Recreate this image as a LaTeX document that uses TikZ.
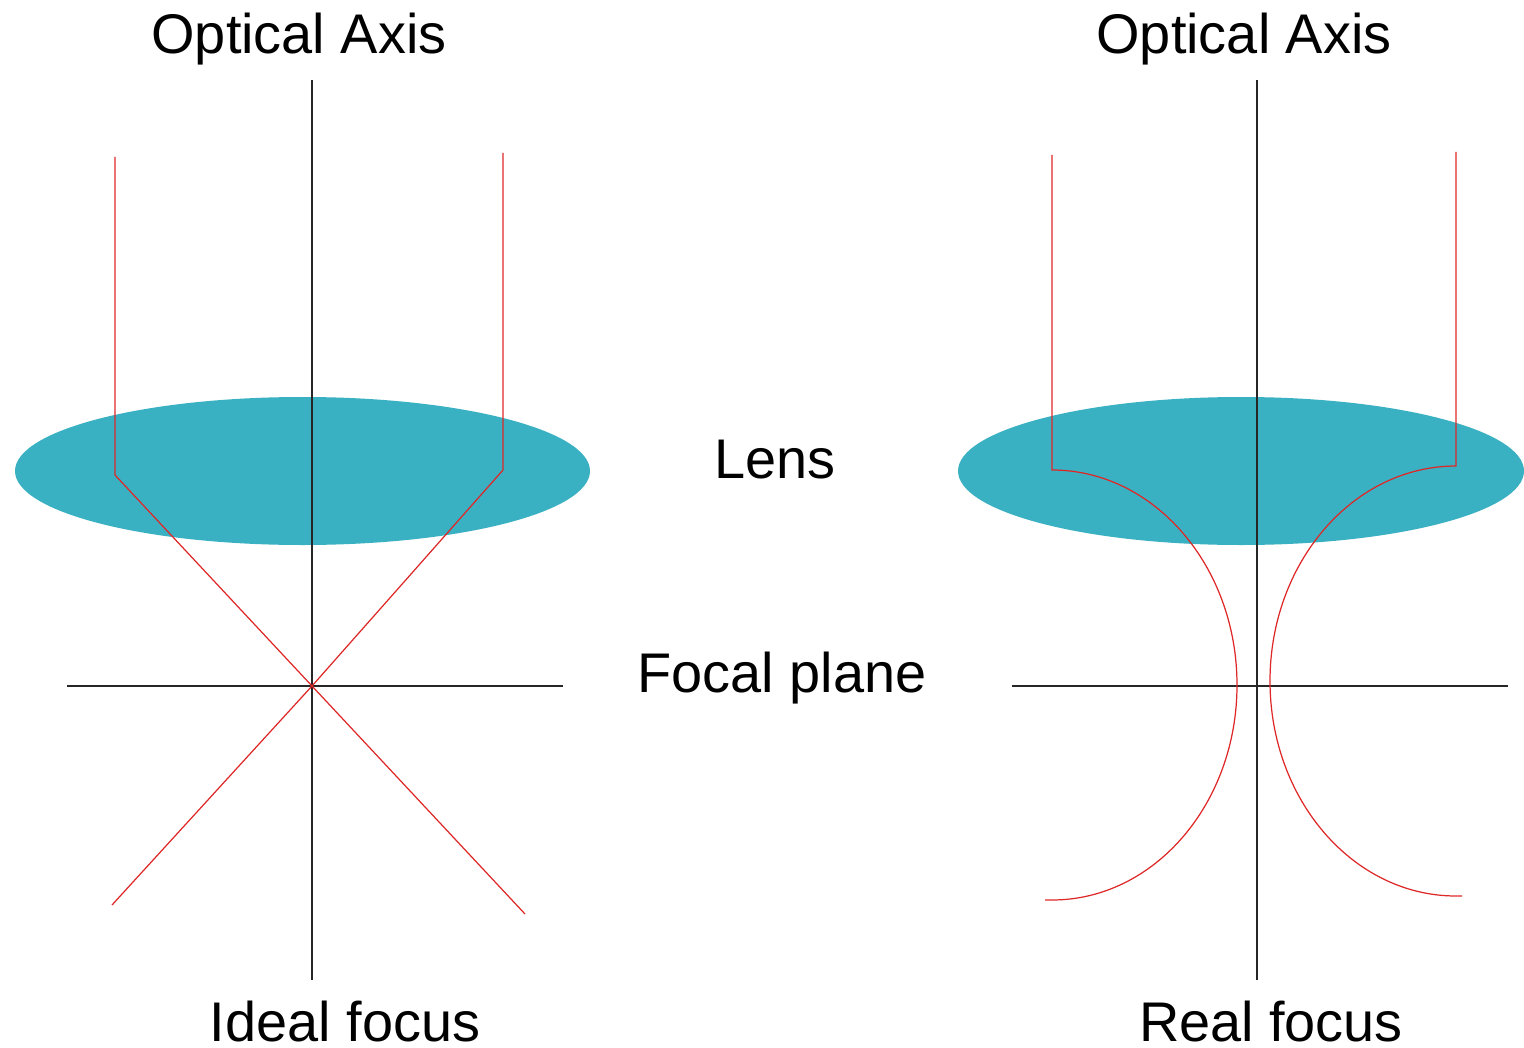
\documentclass[tikz,border=0pt]{standalone}
\usepackage{fontspec}
\setmainfont{Liberation Sans}
\usetikzlibrary{calc}
\definecolor{lenscyan}{RGB}{58,177,194}
\definecolor{raysred}{RGB}{222,40,40}

\begin{document}
\begin{tikzpicture}[x=1cm,y=1cm,
  axis/.style={black!85,line width=0.5pt},
  ray/.style={raysred,line width=0.35pt},
  lens/.style={fill=lenscyan,draw=none},
  lbl/.style={font=\fontsize{15.9}{18}\selectfont,anchor=base,inner sep=0pt}]

\useasboundingbox (0,0) rectangle (15.24,-10.48);
\clip (0,0) rectangle (15.24,-10.48);

% lenses
\fill[lens] (3.025,-4.71) ellipse [x radius=2.875, y radius=0.74];
\fill[lens] (12.41,-4.71) ellipse [x radius=2.83, y radius=0.74];

% optical axes and focal planes
\draw[axis] (3.12,-0.80) -- (3.12,-9.80);
\draw[axis] (0.67,-6.86) -- (5.63,-6.86);
\draw[axis] (12.57,-0.80) -- (12.57,-9.80);
\draw[axis] (10.12,-6.86) -- (15.08,-6.86);

% ideal focus
\coordinate (fi) at (3.12,-6.86);
\draw[ray] (1.15,-1.57) -- (1.15,-4.75) -- (fi) -- (5.25,-9.14);
\draw[ray] (5.03,-1.53) -- (5.03,-4.70) -- (fi) -- (1.12,-9.05);

% real focus
\draw[ray] (10.52,-1.55) -- (10.52,-4.70)
  arc [start angle=90, end angle=-90, x radius=1.85, y radius=2.15]
  -- ++(-0.07,0);
\draw[ray] (14.56,-1.52) -- (14.56,-4.66)
  arc [start angle=90, end angle=270, x radius=1.86, y radius=2.15]
  -- ++(0.06,0);

% labels
\node[lbl] (axisL) at (2.99,-0.54) {Optical Axis};
\node[lbl] (axisR) at (12.44,-0.54) {Optical Axis};
\node[lbl] (lenslbl) at (7.75,-4.78) {Lens};
\node[lbl] (focal) at (7.82,-6.92) {Focal plane};
\node[lbl] (ideal) at (3.45,-10.41) {Ideal focus};
\node[lbl] (real) at (12.71,-10.41) {Real focus};

\end{tikzpicture}
\end{document}
